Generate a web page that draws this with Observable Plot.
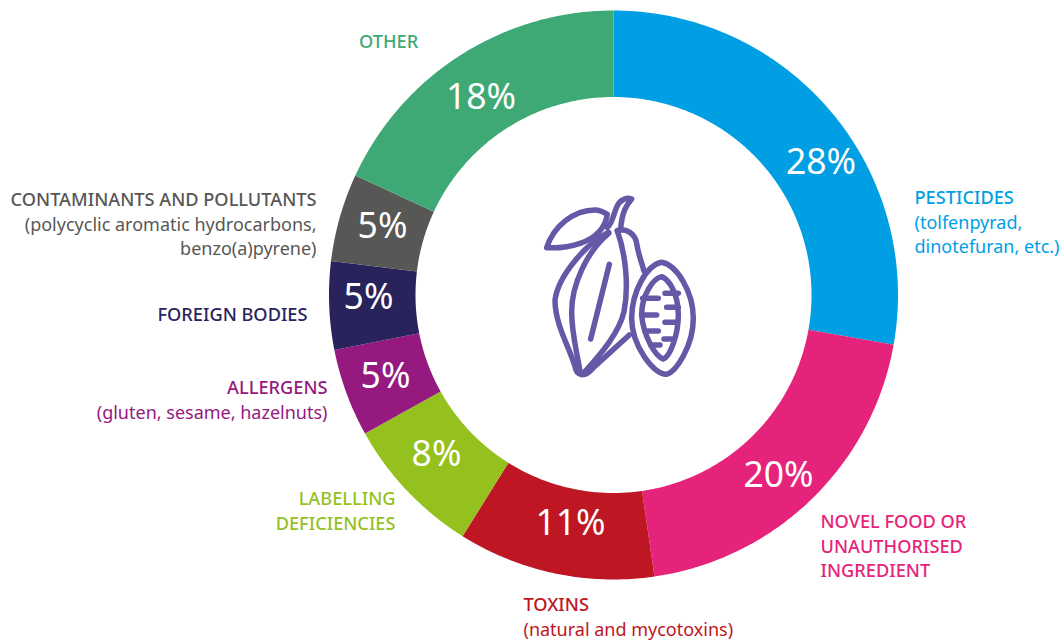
<!DOCTYPE html>
<html><head><meta charset="utf-8">
<style>html,body{margin:0;padding:0;background:#fff}svg{display:block}</style>
<script src="https://cdn.jsdelivr.net/npm/d3@7"></script>
<script src="https://cdn.jsdelivr.net/npm/@observablehq/plot@0.6"></script>
</head><body><div id="chart"></div>
<script>
// Data
const categories = ["Pesticides","Novel food","Toxins","Labelling","Allergens","Foreign bodies","Contaminants","Other"];
const shares = [27.8, 19.9, 11.2, 8.0, 5.0, 5.0, 5.0, 18.1];
const shareLabels = ["28%","20%","11%","8%","5%","5%","5%","18%"];
const titleLines = [["PESTICIDES"],["NOVEL FOOD OR","UNAUTHORISED","INGREDIENT"],["TOXINS"],["LABELLING","DEFICIENCIES"],["ALLERGENS"],["FOREIGN BODIES"],["CONTAMINANTS AND POLLUTANTS"],["OTHER"]];
const noteLines = [["(tolfenpyrad,","dinotefuran, etc.)"],[],["(natural and mycotoxins)"],[],["(gluten, sesame, hazelnuts)"],[],["(polycyclic aromatic hydrocarbons,","benzo(a)pyrene)"],[]];
const colors = ["#009FE3","#E6237A","#BE1622","#95C11F","#95197F","#29235C","#575756","#3FA975"];

// Layout (not data)
const W = 1061, H = 640, cx = 613.5, cy = 295, rOuter = 284.5, rInner = 198;
const shareAnchors = [[820.5,162.5],[778,475.5],[570,523.5],[436,454.5],[385,376.5],[368,297.5],[382,226.5],[480.5,97.5]];
const labelAnchors = [[914,197.5,"start"],[820,521.5,"start"],[523,604.5,"start"],[395,498.5,"end"],[327,387.5,"end"],[307,314.5,"end"],[316,199.5,"end"],[358.5,41.5,"start"]];
const lineStep = 24.8;
const font = "'Noto Sans', sans-serif";

// Ring geometry derived from the shares
const total = d3.sum(shares);
let acc = 0;
const ring = [];
shares.forEach((s, i) => {
  const a0 = acc / total * 2 * Math.PI, a1 = (acc + s) / total * 2 * Math.PI;
  const n = Math.ceil(s * 6);
  for (let k = 0; k <= n; k++) {
    const a = a0 + (a1 - a0) * k / n;
    ring.push({category: categories[i],
      x1: cx + rInner * Math.sin(a), y1: cy - rInner * Math.cos(a),
      x2: cx + rOuter * Math.sin(a), y2: cy - rOuter * Math.cos(a)});
  }
  acc += s;
});

const pctRows = shareLabels.map((t, i) => ({t, x: shareAnchors[i][0], y: shareAnchors[i][1]}));
const titleRows = [], noteRows = [];
categories.forEach((c, i) => {
  const [x, y, anchor] = labelAnchors[i];
  titleLines[i].forEach((t, j) => titleRows.push({t, x, y: y + j * lineStep, anchor, category: c}));
  noteLines[i].forEach((t, j) => noteRows.push({t, x, y: y + (titleLines[i].length + j) * lineStep, anchor, category: c}));
});
const textMarks = (rows, weight, size) => ["start","end"].map(anchor =>
  Plot.text(rows.filter(r => r.anchor === anchor), {
    x: "x", y: "y", text: "t", fill: "category", textAnchor: anchor,
    lineAnchor: "middle", fontSize: size, fontWeight: weight, fontFamily: font
  }));

// Cocoa pod icon, drawn in the centre of the ring
const iconPaths = [
  "M50,188 C70,125 130,75 195,75 C212,75 232,88 232,88 C225,130 195,160 150,175 C115,187 80,190 50,188 Z",
  "M232,128 C250,110 250,85 262,62 C270,45 290,36 305,42 C290,60 275,80 272,135",
  "M236,142 C170,175 85,270 75,345 C75,420 120,490 135,545 C140,575 165,578 190,548 L298,450",
  "M236,145 C170,200 125,300 125,380 C125,450 145,520 150,560",
  "M262,138 C285,200 298,300 282,380 C268,440 220,500 160,565",
  "M262,136 C290,130 315,145 320,175 C325,210 335,230 342,258",
  "M238,238 L182,462",
  "M395,232 C440,240 490,320 490,400 C490,480 440,560 410,568 C370,570 305,480 305,400 C305,320 350,240 395,232 Z",
  "M395,275 C420,285 445,330 445,390 C445,450 420,515 400,522 C375,515 340,450 335,390 C335,330 370,280 395,275 Z",
  "M445,325 L405,325 M445,367 L410,367 M442,412 L405,412 M432,462 L402,462",
  "M338,340 L385,340 M335,390 L380,390 M345,438 L385,438 M362,480 L390,480"
];
const iconMark = () => {
  const g = d3.create("svg:g")
    .attr("transform", "translate(530,185) scale(0.3333)")
    .attr("fill", "none").attr("stroke", "#6459A6")
    .attr("stroke-width", 16.5).attr("stroke-linecap", "round").attr("stroke-linejoin", "round");
  iconPaths.forEach(d => g.append("path").attr("d", d));
  return g.node();
};

const chart = Plot.plot({
  width: W, height: H, margin: 0,
  x: {domain: [0, W], range: [0, W], axis: null},
  y: {domain: [0, H], range: [0, H], axis: null},
  color: {domain: categories, range: colors},
  style: {background: "#fff", fontFamily: font},
  marks: [
    Plot.area(ring, {x1: "x1", y1: "y1", x2: "x2", y2: "y2", z: "category", fill: "category"}),
    Plot.text(pctRows, {x: "x", y: "y", text: "t", fill: "#fff", fontSize: 35.5, lineAnchor: "middle", fontFamily: font}),
    ...textMarks(titleRows, 500, 18.2),
    ...textMarks(noteRows, 400, 18),
    iconMark
  ]
});
document.getElementById("chart").append(chart);
</script></body></html>
